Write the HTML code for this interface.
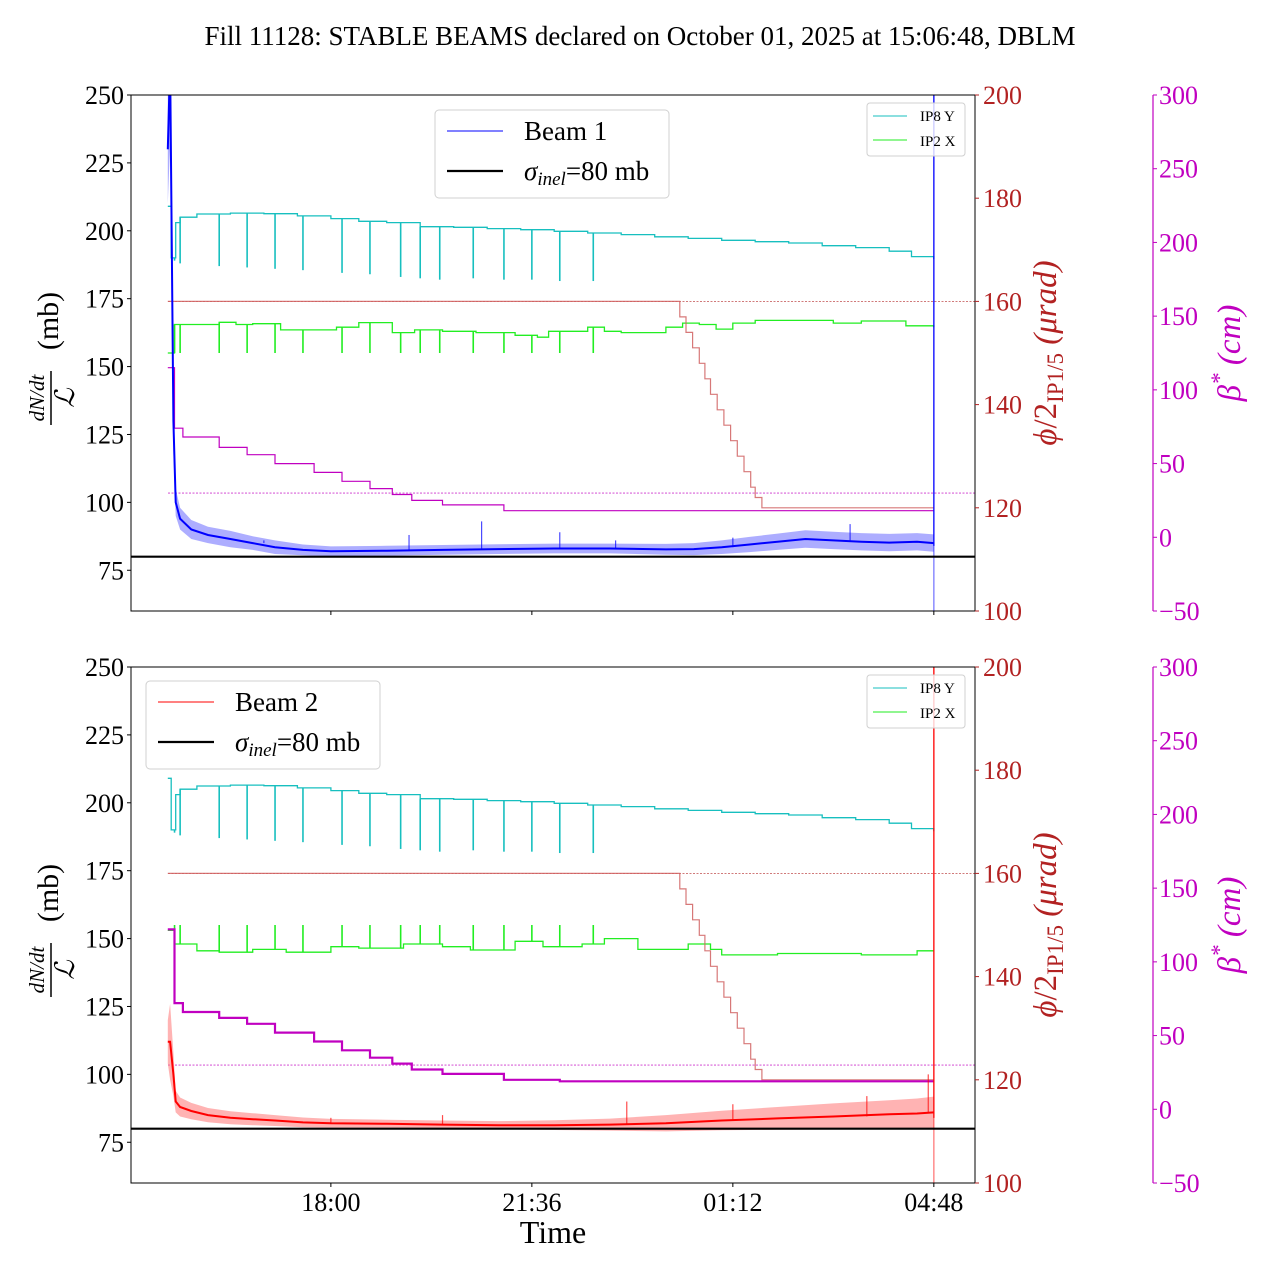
<!DOCTYPE html>
<html><head><meta charset="utf-8">
<style>
html,body{margin:0;padding:0;background:#fff;}
svg{display:block;font-family:"Liberation Serif","DejaVu Serif",serif;}
</style></head>
<body>
<svg id="chart" width="1280" height="1280" viewBox="0 0 1280 1280" xmlns="http://www.w3.org/2000/svg">
<text x="640" y="45" font-size="27" text-anchor="middle">Fill 11128: STABLE BEAMS declared on October 01, 2025 at 15:06:48, DBLM</text>
<text x="553" y="1243" font-size="32" text-anchor="middle">Time</text>
</svg>
<script>
// ---- data ----
const xTickLabels = ["18:00","21:36","01:12","04:48"];
const xTickHours = [18.0, 21.6, 25.2, 28.8];
const leftTicks = [75,100,125,150,175,200,225,250];
const phiTicks = [100,120,140,160,180,200];
const betaTicks = [-50,0,50,100,150,200,250,300];

const cyanT = [15.08,15.14,15.22,15.30,15.6,16.2,16.8,17.4,18.0,18.5,19.0,19.6,20.2,20.8,21.4,22.0,22.6,23.2,23.8,24.4,25.0,25.6,26.2,26.8,27.4,28.0,28.4,28.8];
const cyanV = [209,190,203,205,206.2,206.5,206.3,205.5,204.5,203.5,203,201.5,201.3,200.8,200.4,199.8,199.2,198.6,197.8,197.2,196.5,196,195.5,194.5,193.8,192.5,190.5,189.5];
const cyanDipT = [15.2,15.3,16.0,16.5,17.0,17.5,18.2,18.7,19.25,19.6,19.95,20.55,21.1,21.6,22.1,22.7];
const cyanDipV = [189,188,187,186.5,186,185.5,184.5,184,183,182.5,182,182.5,182,182,181.5,181.5];

const green1T = [15.08,15.2,16.0,16.3,16.6,17.1,18.1,18.5,19.1,19.5,20.0,20.6,21.3,21.7,21.9,22.6,22.9,23.2,24.0,24.3,24.6,24.9,25.2,25.6,27.0,27.5,28.3,28.8];
const green1V = [155,165.5,166.3,165.5,165.8,163.5,164.5,166.2,162.5,163.5,163,162.5,161.5,160.8,163,164.5,163,162.5,164.5,166,165.5,163.8,166,167,166,166.8,165,164.5];
const green1DipV = 155;
const green2T = [15.08,15.2,15.6,16.0,16.6,17.2,18.0,18.5,19.3,20.0,20.5,21.3,21.8,22.5,22.9,23.5,24.4,24.8,25.0,26.0,27.5,28.5,28.8];
const green2V = [153,148,145.5,145,146,145,147,146.5,148,147,145.8,149,147,148,150,146,148,146,144,144.5,144,145.5,145.5];
const green2DipV = 155;

const betaT = [15.08,15.2,15.35,16.0,16.5,17.0,17.7,18.2,18.7,19.1,19.45,20.0,21.1,22.1,28.8];
const beta1V = [115,74,68,61,56,50,44,38,33,29,25,22,18,18,18];
const beta2V = [122,72,66,62,58,52,46,40,35,31,27,24,20,19,19];

const phiT = [15.08,24.25,24.36,24.48,24.6,24.7,24.8,24.92,25.04,25.16,25.28,25.4,25.52,25.6,25.72,28.8];
const phiV = [160,157,154,151,148,145,142,139,136,133,130,127,124,122,120,120];

const beam1T = [15.08,15.12,15.18,15.22,15.3,15.5,15.8,16.2,16.6,17.0,17.5,18.0,19.0,20.0,21.0,22.0,23.0,24.0,24.5,25.0,25.5,26.0,26.5,27.0,27.5,28.0,28.5,28.8];
const beam1V = [230,262,130,100,94,90,88,86.5,85,83.5,82.5,82,82.2,82.5,82.8,83,83,82.7,82.8,83.5,84.5,85.5,86.5,86,85.5,85.2,85.5,85];
const beam1E = [20,30,12,5,4,3.5,3,3,2.5,2.5,2,1.8,1.8,1.8,1.8,1.8,1.8,2,2.2,2.5,2.8,3,3.2,3.2,3.2,3.2,3.2,3.2];
const beam1SpikeT = [16.8,19.4,20.7,22.1,23.1,25.2,27.3];
const beam1SpikeV = [86,88,93,89,86,87,92];

const beam2T = [15.08,15.12,15.18,15.22,15.3,15.5,15.8,16.2,16.6,17.0,17.5,18.0,19.0,20.0,21.0,22.0,23.0,24.0,25.0,26.0,27.0,28.0,28.5,28.8];
const beam2V = [112,112,100,90,88,86.5,85,84,83.5,83,82.3,82,81.8,81.5,81.3,81.3,81.5,82,83,83.8,84.5,85.3,85.6,86];
const beam2E = [8,14,8,4,3.5,3,2.6,2.4,2.2,2,1.8,1.6,1.5,1.5,1.5,1.8,2.2,3,3.6,4.2,4.8,5.2,5.5,5.8];
const beam2SpikeT = [18.0,20.0,23.3,25.2,27.6,28.7];
const beam2SpikeV = [84,85,90,89,92,100];

const sigmaInel = 80;

// ---- axes ----
const X0=131, X1=975;
const xs = t => X0 + (t-14.42)*55.83;
const panels = [{y0:95, beam:1},{y0:667, beam:2}];
const H=516;
const svg = document.getElementById('chart');
const NS='http://www.w3.org/2000/svg';
function mk(tag, attrs, parent){const e=document.createElementNS(NS,tag);for(const k in attrs)e.setAttribute(k,attrs[k]);(parent||svg).appendChild(e);return e;}
function stepPath(T,V,xf,yf){let d='M'+xf(T[0]).toFixed(1)+','+yf(V[0]).toFixed(1);for(let i=1;i<T.length;i++){d+=' H'+xf(T[i]).toFixed(1)+' V'+yf(V[i]).toFixed(1);}return d;}
function linePath(T,V,xf,yf){return T.map((t,i)=>(i?'L':'M')+xf(t).toFixed(1)+','+yf(V[i]).toFixed(1)).join(' ');}
function levelAt(T,V,t){let v=V[0];for(let i=0;i<T.length;i++){if(T[i]<=t)v=V[i];}return v;}

panels.forEach(p=>{
  const y0=p.y0;
  const ys = v => y0 + (250-v)*H/190;
  const yp = v => y0 + (200-v)*H/100;
  const yb = v => y0 + (300-v)*H/350;
  const g = mk('g',{});
  
  
  const clip = mk('clipPath',{id:'clip'+p.beam},g);
  mk('rect',{x:X0,y:y0,width:X1-X0,height:H},clip);
  const pl = mk('g',{'clip-path':'url(#clip'+p.beam+')'},g);
  let e=mk('line',{x1:168,x2:X1,y1:yp(160),y2:yp(160),stroke:'#b22222','stroke-width':0.8,'stroke-dasharray':'2,1.5',opacity:0.8},pl);
   
  e=mk('line',{x1:168,x2:X1,y1:yb(30),y2:yb(30),stroke:'#c000c0','stroke-width':0.8,'stroke-dasharray':'2,1.5',opacity:0.8},pl);
   
  e=mk('path',{d:stepPath(cyanT,cyanV,xs,ys),fill:'none',stroke:'#17bfbf','stroke-width':1.3},pl);
   
  cyanDipT.forEach((t,i)=>{const l=mk('line',{x1:xs(t),x2:xs(t),y1:ys(levelAt(cyanT,cyanV,t)),y2:ys(cyanDipV[i]),stroke:'#17bfbf','stroke-width':1.6},pl);
     });
  const gT = p.beam===1?green1T:green2T, gV=p.beam===1?green1V:green2V, gD=p.beam===1?green1DipV:green2DipV;
  e=mk('path',{d:stepPath(gT,gV,xs,ys),fill:'none',stroke:'#22ee22','stroke-width':1.3},pl);
   
  cyanDipT.forEach(t=>{const l=mk('line',{x1:xs(t),x2:xs(t),y1:ys(levelAt(gT,gV,t)),y2:ys(gD),stroke:'#22ee22','stroke-width':1.6},pl);
     });
  e=mk('path',{d:stepPath(phiT,phiV,xs,yp),fill:'none',stroke:'#d06060','stroke-width':1.2,opacity:0.85},pl);
   
  e=mk('path',{d:stepPath(betaT,p.beam===1?beta1V:beta2V,xs,yb),fill:'none',stroke:'#c000c0','stroke-width':p.beam===1?1.2:2.2},pl);
   
  const bT=p.beam===1?beam1T:beam2T, bV=p.beam===1?beam1V:beam2V, bE=p.beam===1?beam1E:beam2E;
  const col=p.beam===1?'#0000ff':'#ff0000', bandCol=p.beam===1?'#7777ff':'#ff8080';
  let d=bT.map((t,i)=>(i?'L':'M')+xs(t).toFixed(1)+','+ys(bV[i]+bE[i]).toFixed(1)).join(' ');
  for(let i=bT.length-1;i>=0;i--) d+=' L'+xs(bT[i]).toFixed(1)+','+ys(bV[i]-bE[i]).toFixed(1);
  e=mk('path',{d:d+'Z',fill:bandCol,opacity:0.6},pl);
   
  e=mk('path',{d:linePath(bT,bV,xs,ys),fill:'none',stroke:col,'stroke-width':2},pl);
   
  const sT=p.beam===1?beam1SpikeT:beam2SpikeT, sV=p.beam===1?beam1SpikeV:beam2SpikeV;
  sT.forEach((t,i)=>{const l=mk('line',{x1:xs(t),x2:xs(t),y1:ys(levelAt(bT,bV,t)),y2:ys(sV[i]),stroke:col,'stroke-width':1.2,opacity:0.7},pl);
     });
  e=mk('line',{x1:xs(28.8),x2:xs(28.8),y1:y0,y2:y0+H,stroke:col,'stroke-width':1.5,opacity:0.45},pl);
   
  e=mk('line',{x1:xs(28.8),x2:xs(28.8),y1:y0,y2:ys(84),stroke:col,'stroke-width':1.5,opacity:0.7},pl);
  e=mk('line',{x1:X0,x2:X1,y1:ys(sigmaInel),y2:ys(sigmaInel),stroke:'#000','stroke-width':2.2},pl);
   
  e=mk('rect',{x:X0,y:y0,width:X1-X0,height:H,fill:'none',stroke:'#000','stroke-width':1},g);
   
  leftTicks.forEach(v=>{mk('line',{x1:X0-4,x2:X0,y1:ys(v),y2:ys(v),stroke:'#000'},g);
    const t=mk('text',{x:X0-7,y:ys(v)+9,'font-size':26,'text-anchor':'end'},g);t.textContent=v;
     });
  phiTicks.forEach(v=>{mk('line',{x1:X1,x2:X1+4,y1:yp(v),y2:yp(v),stroke:'#b22222'},g);
    const t=mk('text',{x:X1+8,y:yp(v)+9,'font-size':26,fill:'#b22222'},g);t.textContent=v;
     });
  const BX=1153;
  mk('line',{x1:BX,x2:BX,y1:y0,y2:y0+H,stroke:'#c000c0','stroke-width':1.2},g);
  betaTicks.forEach(v=>{mk('line',{x1:BX,x2:BX+4,y1:yb(v),y2:yb(v),stroke:'#c000c0'},g);
    const t=mk('text',{x:BX+6,y:yb(v)+9,'font-size':26,fill:'#c000c0'},g);t.textContent=(v<0?'\u2212'+(-v):v);
     });
  xTickHours.forEach((h,i)=>{mk('line',{x1:xs(h),x2:xs(h),y1:y0+H,y2:y0+H+4,stroke:'#000'},g);
    if(p.beam===2){const t=mk('text',{x:xs(h),y:y0+H+28,'font-size':26,'text-anchor':'middle'},g);t.textContent=xTickLabels[i];
       }});
  const cy=y0+258;
  const lg=mk('g',{transform:'translate(60,'+cy+') rotate(-90)'},g);
   
  let t=mk('text',{x:-45,y:-16,'font-size':21,'font-style':'italic','text-anchor':'middle'},lg);t.textContent='dN/dt';
  mk('line',{x1:-72,x2:-18,y1:-9,y2:-9,stroke:'#000','stroke-width':1.5},lg);
  t=mk('text',{x:-45,y:14,'font-size':27,'font-style':'italic','text-anchor':'middle'},lg);t.textContent='\u2112';
  t=mk('text',{x:32,y:-2,'font-size':30,'text-anchor':'middle'},lg);t.textContent='(mb)';
  const rg=mk('g',{transform:'translate(1056,'+cy+') rotate(-90)'},g);
   
  t=mk('text',{x:0,y:0,'font-size':33,'text-anchor':'middle',fill:'#b22222'},rg);
  t.innerHTML='<tspan font-style="italic">\u03d5</tspan>/2<tspan font-size="23" dy="7">IP1/5</tspan><tspan dy="-7" font-style="italic"> (\u03bcrad)</tspan>';
  const bg=mk('g',{transform:'translate(1240,'+cy+') rotate(-90)'},g);
   
  t=mk('text',{x:0,y:0,'font-size':33,'text-anchor':'middle',fill:'#c000c0','font-style':'italic'},bg);
  t.innerHTML='\u03b2<tspan font-size="23" dy="-13">*</tspan><tspan dy="13"> (cm)</tspan>';
  const Lx=p.beam===1?435:146, Ly=p.beam===1?110:681;
  const leg=mk('g',{},g);
   
  mk('rect',{x:Lx,y:Ly,width:234,height:88,rx:4,fill:'#fff',stroke:'#d0d0d0','fill-opacity':0.85},leg);
  mk('line',{x1:Lx+12,x2:Lx+68,y1:Ly+21,y2:Ly+21,stroke:col,'stroke-width':1},leg);
  t=mk('text',{x:Lx+89,y:Ly+30,'font-size':27},leg);t.textContent='Beam '+p.beam;
  mk('line',{x1:Lx+12,x2:Lx+68,y1:Ly+61,y2:Ly+61,stroke:'#000','stroke-width':2.2},leg);
  t=mk('text',{x:Lx+89,y:Ly+70,'font-size':27},leg);
  t.innerHTML='<tspan font-style="italic">\u03c3</tspan><tspan font-style="italic" font-size="19" dy="5">inel</tspan><tspan dy="-5">=80 mb</tspan>';
  const sg=mk('g',{},g);
   
  mk('rect',{x:867,y:y0+8,width:98,height:53,rx:3,fill:'#fff',stroke:'#d0d0d0','fill-opacity':0.8},sg);
  mk('line',{x1:873,x2:907,y1:y0+21,y2:y0+21,stroke:'#17bfbf'},sg);
  t=mk('text',{x:920,y:y0+26,'font-size':15},sg);t.textContent='IP8 Y';
  mk('line',{x1:873,x2:907,y1:y0+45,y2:y0+45,stroke:'#22ee22'},sg);
  t=mk('text',{x:920,y:y0+51,'font-size':15},sg);t.textContent='IP2 X';
});
</script>
</body></html>
